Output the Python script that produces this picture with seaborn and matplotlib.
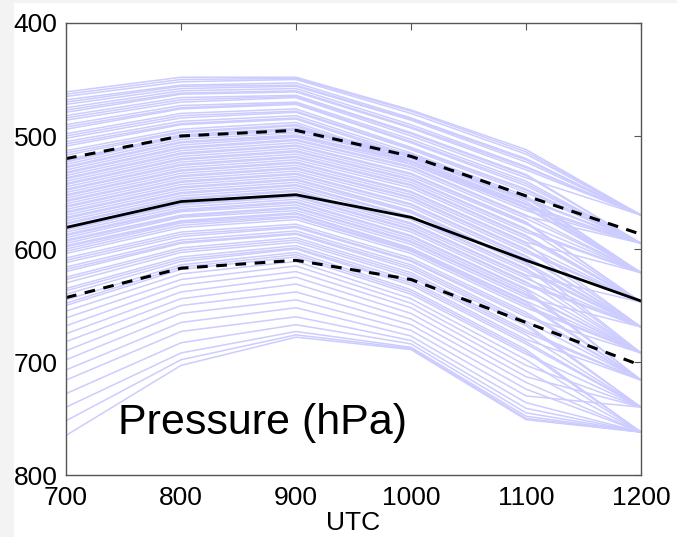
import matplotlib
matplotlib.use("Agg")
import matplotlib.pyplot as plt
import seaborn as sns
import pandas as pd
from matplotlib.patches import Rectangle

utc = [700, 800, 900, 1000, 1100, 1200]

# ensemble members: pressure (hPa) at each UTC time
ensemble = [
    [461, 448, 448, 477, 512, 570],
    [463, 450, 449, 478, 514, 570],
    [465, 452, 450, 480, 516, 570],
    [468, 455, 453, 484, 520, 570],
    [470, 456, 455, 485, 521, 570],
    [472, 458, 456, 486, 523, 570],
    [475, 460, 458, 490, 527, 570],
    [477, 462, 460, 492, 528, 570],
    [479, 463, 461, 493, 530, 570],
    [482, 466, 464, 497, 534, 595],
    [484, 468, 465, 498, 535, 595],
    [486, 470, 466, 500, 537, 570],
    [490, 473, 470, 503, 540, 595],
    [492, 475, 471, 505, 542, 595],
    [494, 476, 472, 506, 544, 595],
    [498, 480, 476, 510, 547, 595],
    [500, 482, 478, 511, 548, 595],
    [502, 484, 479, 512, 550, 595],
    [505, 487, 482, 515, 553, 621],
    [507, 489, 484, 517, 555, 621],
    [509, 490, 485, 519, 556, 595],
    [513, 494, 488, 522, 560, 621],
    [515, 496, 490, 523, 561, 595],
    [517, 497, 491, 525, 563, 595],
    [521, 499, 493, 516, 555, 595],
    [522, 500, 494, 517, 556, 595],
    [523, 501, 495, 518, 558, 621],
    [525, 503, 497, 520, 560, 621],
    [527, 505, 499, 522, 563, 621],
    [528, 506, 500, 523, 564, 621],
    [530, 508, 501, 525, 566, 595],
    [532, 510, 503, 527, 570, 621],
    [533, 511, 504, 528, 571, 595],
    [535, 513, 506, 530, 573, 621],
    [537, 515, 508, 533, 576, 647],
    [538, 516, 509, 534, 577, 647],
    [540, 518, 511, 536, 578, 621],
    [542, 520, 513, 538, 582, 647],
    [543, 521, 514, 539, 583, 621],
    [545, 523, 516, 541, 585, 621],
    [547, 525, 518, 543, 588, 647],
    [548, 526, 519, 544, 589, 647],
    [550, 528, 521, 546, 591, 647],
    [552, 530, 523, 549, 594, 621],
    [553, 531, 524, 550, 595, 669],
    [555, 533, 526, 552, 597, 647],
    [557, 535, 528, 554, 600, 669],
    [558, 536, 529, 555, 601, 647],
    [560, 538, 531, 557, 603, 647],
    [562, 540, 533, 560, 606, 669],
    [563, 541, 534, 561, 607, 669],
    [565, 543, 536, 563, 609, 647],
    [567, 545, 538, 566, 612, 669],
    [568, 546, 539, 567, 612, 692],
    [570, 548, 541, 568, 614, 669],
    [572, 550, 543, 571, 617, 692],
    [573, 551, 544, 572, 618, 669],
    [575, 553, 546, 574, 620, 669],
    [577, 555, 548, 577, 623, 647],
    [578, 556, 549, 578, 624, 692],
    [580, 558, 551, 580, 626, 669],
    [582, 560, 553, 582, 629, 692],
    [583, 561, 554, 583, 630, 669],
    [585, 563, 556, 585, 632, 669],
    [587, 565, 558, 588, 635, 692],
    [588, 566, 559, 589, 636, 716],
    [590, 567, 561, 591, 638, 716],
    [592, 570, 563, 593, 640, 692],
    [593, 571, 564, 594, 641, 692],
    [595, 572, 566, 596, 643, 669],
    [597, 575, 568, 599, 646, 692],
    [598, 576, 569, 600, 647, 716],
    [600, 577, 571, 601, 649, 716],
    [602, 579, 572, 602, 650, 692],
    [604, 581, 574, 604, 652, 692],
    [608, 585, 578, 608, 656, 716],
    [610, 587, 580, 610, 658, 716],
    [612, 589, 581, 611, 660, 692],
    [616, 592, 584, 614, 664, 716],
    [618, 594, 586, 616, 666, 740],
    [620, 595, 587, 618, 668, 740],
    [625, 599, 590, 621, 672, 716],
    [627, 601, 592, 623, 674, 716],
    [630, 603, 594, 625, 676, 740],
    [635, 607, 597, 628, 680, 716],
    [637, 609, 599, 630, 682, 740],
    [640, 611, 600, 632, 684, 740],
    [645, 614, 603, 636, 689, 762],
    [648, 616, 605, 638, 691, 762],
    [650, 618, 607, 640, 693, 740],
    [655, 622, 611, 644, 698, 762],
    [661, 627, 615, 648, 703, 740],
    [668, 632, 620, 652, 708, 762],
    [675, 638, 625, 657, 713, 740],
    [682, 644, 631, 662, 718, 762],
    [690, 650, 638, 667, 724, 762],
    [698, 657, 645, 672, 730, 740],
    [707, 665, 652, 677, 736, 762],
    [716, 673, 660, 681, 741, 762],
    [728, 683, 667, 684, 745, 762],
    [740, 692, 673, 687, 748, 762],
    [752, 698, 676, 688, 750, 762],
    [765, 703, 678, 689, 751, 762],
]

mean_p = [581, 558, 552, 572, 610, 646]
upper_p = [520, 500, 495, 518, 553, 587]
lower_p = [643, 617, 610, 627, 665, 703]

xticks = [700, 800, 900, 1000, 1100, 1200]
yticks = [400, 500, 600, 700, 800]

rows = []
for m, vals in enumerate(ensemble):
    for t, v in zip(utc, vals):
        rows.append({"member": m, "utc": t, "p": v})
df = pd.DataFrame(rows)
stats = pd.DataFrame({"utc": utc, "mean": mean_p, "upper": upper_p, "lower": lower_p})

sns.set_style("white")
plt.rcParams["font.family"] = ["Liberation Sans", "DejaVu Sans"]

fig = plt.figure(figsize=(6.77, 5.37), dpi=100)
fig.patch.set_facecolor("#f3f3f3")
fig.patches.append(Rectangle((14 / 677, 0), 1, (537 - 3) / 537, transform=fig.transFigure,
                             facecolor="white", edgecolor="none", zorder=-10))
ax = fig.add_axes([66 / 677, 1 - 475 / 537, (641 - 66) / 677, (475 - 23) / 537])

sns.lineplot(data=df, x="utc", y="p", units="member", estimator=None,
             color=(0.80, 0.80, 1.0), lw=1.1, ax=ax, legend=False)
sns.lineplot(data=stats, x="utc", y="mean", color="black", lw=2.0, ax=ax)
sns.lineplot(data=stats, x="utc", y="upper", color="black", lw=2.2, ax=ax,
             linestyle=(0, (3.5, 2.8)))
sns.lineplot(data=stats, x="utc", y="lower", color="black", lw=2.2, ax=ax,
             linestyle=(0, (3.5, 2.8)))

ax.set_xlim(700, 1200)
ax.set_ylim(800, 400)
ax.set_xticks(xticks)
ax.set_yticks(yticks)
ax.set_xticklabels([str(v) for v in xticks])
ax.set_yticklabels([str(v) for v in yticks])
ax.tick_params(direction="in", length=5, width=0.8, color="#555555",
               top=True, right=True, labelsize=19, pad=6, labelcolor="black")
ax.tick_params(axis="x", pad=8)
for s in ax.spines.values():
    s.set_visible(True)
    s.set_color("#555555")
    s.set_linewidth(1.0)
ax.set_xlabel("UTC", fontsize=19, labelpad=1, color="black")
ax.set_ylabel("")
ax.text(745, 764, "Pressure (hPa)", fontsize=31, color="black", ha="left", va="baseline")

fig.savefig("out.png", dpi=100, facecolor=fig.get_facecolor())
